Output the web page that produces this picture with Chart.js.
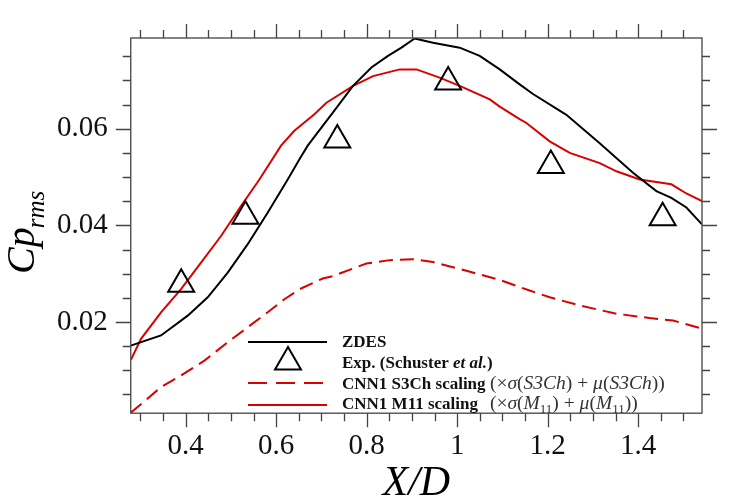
<!DOCTYPE html>
<html lang="en">
<head>
<meta charset="UTF-8" />
<title>Cp rms</title>
<style>
  body { margin: 0; background: #fff; }
  canvas { display: block; }
</style>
</head>
<body>
<canvas id="cpChart" width="752" height="503"></canvas>
<script src="https://cdn.jsdelivr.net/npm/chart.js@4"></script>
<script>
// ZDES
const zdesX = [0.2785, 0.3454, 0.4044, 0.4486, 0.4928, 0.537, 0.581, 0.6254, 0.652, 0.6696, 0.7255, 0.7697, 0.8104, 0.847, 0.8767, 0.906, 0.9465, 1.0055, 1.0497, 1.094, 1.138, 1.1675, 1.2413, 1.3149, 1.3885, 1.4402, 1.4733, 1.5065, 1.541];
const zdesY = [0.0151, 0.0172, 0.0213, 0.0251, 0.0302, 0.0361, 0.0426, 0.0495, 0.0538, 0.0565, 0.0634, 0.0689, 0.0727, 0.0751, 0.0768, 0.0787, 0.0778, 0.0768, 0.0751, 0.0723, 0.0692, 0.0672, 0.0629, 0.0570, 0.0509, 0.0471, 0.0457, 0.0437, 0.0402];
// experiment (Schuster et al.)
const expX = [0.39, 0.532, 0.735, 0.98, 1.207, 1.454];
const expY = [0.0278, 0.0419, 0.0577, 0.0697, 0.0524, 0.0416];
// CNN1 S3Ch scaling
const s3chX = [0.2785, 0.3454, 0.3896, 0.4413, 0.4928, 0.537, 0.5812, 0.618, 0.652, 0.7028, 0.7255, 0.7993, 0.8508, 0.9023, 0.9465, 1.0203, 1.0939, 1.160, 1.2044, 1.271, 1.352, 1.4254, 1.477, 1.541];
const s3chY = [0.0012, 0.0065, 0.0089, 0.012, 0.0158, 0.0189, 0.022, 0.0247, 0.0268, 0.029, 0.0295, 0.0321, 0.0328, 0.033, 0.0324, 0.0306, 0.0287, 0.0265, 0.0251, 0.0234, 0.0217, 0.0208, 0.0203, 0.0186];
// CNN1 M11 scaling
const m11X = [0.2791, 0.3012, 0.3454, 0.3896, 0.4338, 0.478, 0.5222, 0.5628, 0.6106, 0.640, 0.6844, 0.711, 0.77, 0.814, 0.873, 0.91, 0.961, 1.0055, 1.072, 1.094, 1.138, 1.153, 1.2044, 1.2487, 1.3149, 1.352, 1.4033, 1.4733, 1.5065, 1.541];
const m11Y = [0.0122, 0.0165, 0.022, 0.0268, 0.0323, 0.0378, 0.044, 0.0495, 0.0565, 0.0596, 0.063, 0.0654, 0.0689, 0.0709, 0.0723, 0.0723, 0.0706, 0.0689, 0.0661, 0.0646, 0.062, 0.0612, 0.0574, 0.055, 0.0529, 0.0512, 0.0495, 0.0485, 0.0466, 0.045];

const xLabels = [0.4, 0.6, 0.8, 1, 1.2, 1.4];
const yLabels = [0.02, 0.04, 0.06];
const xRange = [0.2785, 1.541];
const yRange = [0.0011, 0.0788];

const serif = "'Liberation Serif', 'DejaVu Serif', serif";
const red = '#d90000';

const toPts = (xs, ys) => xs.map((x, i) => ({ x: x, y: ys[i] }));
const isMajor = (v, list) => list.some((m) => Math.abs(m - v) < 1e-6);

// minor tick marks every 0.05 on x, 0.005 on y
const xMarks = [];
for (let k = 6; k <= 30; k++) xMarks.push(k * 0.05);
const yMarks = [];
for (let k = 1; k <= 15; k++) yMarks.push(k * 0.005);

const frame = {
  id: 'frame',
  afterDraw(chart) {
    const { ctx, chartArea: a } = chart;
    const sx = chart.scales.x, sy = chart.scales.y;
    ctx.save();
    ctx.strokeStyle = '#444';
    ctx.lineWidth = 1.3;
    ctx.strokeRect(a.left, a.top, a.right - a.left, a.bottom - a.top);
    ctx.beginPath();
    xMarks.forEach((v) => {
      const px = Math.round(sx.getPixelForValue(v)) + 0.5;
      const len = isMajor(v, xLabels) ? 14 : 8;
      ctx.moveTo(px, a.bottom); ctx.lineTo(px, a.bottom + len);
      ctx.moveTo(px, a.top); ctx.lineTo(px, a.top - len);
    });
    yMarks.forEach((v) => {
      const py = Math.round(sy.getPixelForValue(v)) + 0.5;
      const len = isMajor(v, yLabels) ? 15 : 8;
      ctx.moveTo(a.left, py); ctx.lineTo(a.left - len, py);
      ctx.moveTo(a.right, py); ctx.lineTo(a.right + len, py);
    });
    ctx.stroke();

    // axis titles
    ctx.fillStyle = '#000';
    ctx.textBaseline = 'alphabetic';
    ctx.textAlign = 'center';
    ctx.font = 'italic 42px ' + serif;
    ctx.fillText('X/D', (a.left + a.right) / 2, 495);

    ctx.save();
    ctx.translate(34, 274);
    ctx.rotate(-Math.PI / 2);
    ctx.textAlign = 'left';
    ctx.font = 'italic 40px ' + serif;
    ctx.fillText('Cp', 0, 0);
    const w = ctx.measureText('Cp').width;
    ctx.font = 'italic 25px ' + serif;
    ctx.fillText('rms', w - 1, 10);
    ctx.restore();

    // legend
    const ds = chart.data.datasets;
    const bold = 'bold 17px ' + serif;
    const boldIt = 'italic bold 17px ' + serif;
    const reg = '19.5px ' + serif;
    const it = 'italic 19.5px ' + serif;
    const sub = '13px ' + serif;
    const rows = [
      { d: 0, y: 342, base: 347, parts: [['ZDES', bold]] },
      { d: 1, y: 362, base: 367.5, parts: [['Exp. (Schuster ', bold], ['et al.', boldIt], [')', bold]] },
      { d: 2, y: 383, base: 388.5, parts: [['CNN1 S3Ch scaling', bold]],
        math: [['(\u00d7', reg], ['\u03c3', it], ['(', reg], ['S3Ch', it], [') + ', reg], ['\u03bc', it], ['(', reg], ['S3Ch', it], ['))', reg]] },
      { d: 3, y: 405, base: 409, parts: [['CNN1 M11 scaling', bold]],
        math: [['(\u00d7', reg], ['\u03c3', it], ['(', reg], ['M', it], ['11', sub, 4], [') + ', reg], ['\u03bc', it], ['(', reg], ['M', it], ['11', sub, 4], ['))', reg]] }
    ];
    const drawParts = (parts, x, base, color) => {
      parts.forEach((p) => {
        ctx.font = p[1];
        ctx.fillStyle = color;
        ctx.fillText(p[0], x, base + (p[2] || 0));
        x += ctx.measureText(p[0]).width;
      });
      return x;
    };
    ctx.textAlign = 'left';
    rows.forEach((r) => {
      const d = ds[r.d];
      if (r.d === 1) {
        const h = 15;
        ctx.beginPath();
        ctx.moveTo(288, r.y - h);
        ctx.lineTo(288 + h * Math.sin(2 * Math.PI / 3), r.y + h / 2);
        ctx.lineTo(288 - h * Math.sin(2 * Math.PI / 3), r.y + h / 2);
        ctx.closePath();
        ctx.strokeStyle = d.pointBorderColor;
        ctx.lineWidth = d.pointBorderWidth;
        ctx.setLineDash([]);
        ctx.stroke();
      } else {
        ctx.beginPath();
        ctx.moveTo(248, r.y);
        ctx.lineTo(327, r.y);
        ctx.strokeStyle = d.borderColor;
        ctx.lineWidth = d.borderWidth;
        ctx.setLineDash(d.borderDash ? [19, 9] : []);
        ctx.stroke();
        ctx.setLineDash([]);
      }
      drawParts(r.parts, 342, r.base, '#111');
      if (r.math) drawParts(r.math, 490, r.base, '#333');
    });
    ctx.restore();
  }
};

const axisTicks = {
  font: { family: serif, size: 29 },
  color: '#111',
  includeBounds: false,
  autoSkip: false,
  maxRotation: 0
};

new Chart(document.getElementById('cpChart').getContext('2d'), {
  type: 'scatter',
  data: {
    datasets: [
      {
        label: 'ZDES',
        data: toPts(zdesX, zdesY),
        showLine: true,
        borderColor: '#000',
        borderWidth: 2,
        pointRadius: 0,
        tension: 0
      },
      {
        label: 'Exp. (Schuster et al.)',
        data: toPts(expX, expY),
        showLine: false,
        pointStyle: 'triangle',
        pointRadius: 15,
        pointHoverRadius: 15,
        pointBorderColor: '#000',
        pointBorderWidth: 2,
        pointBackgroundColor: 'rgba(0,0,0,0)'
      },
      {
        label: 'CNN1 S3Ch scaling',
        data: toPts(s3chX, s3chY),
        showLine: true,
        borderColor: red,
        borderWidth: 2,
        borderDash: [14, 7],
        pointRadius: 0,
        tension: 0
      },
      {
        label: 'CNN1 M11 scaling',
        data: toPts(m11X, m11Y),
        showLine: true,
        borderColor: red,
        borderWidth: 2,
        pointRadius: 0,
        tension: 0
      }
    ]
  },
  options: {
    responsive: false,
    animation: false,
    devicePixelRatio: 1,
    layout: { padding: { left: 50, right: 50, top: 38, bottom: 37 } },
    plugins: { legend: { display: false }, tooltip: { enabled: false } },
    scales: {
      x: {
        type: 'linear',
        min: xRange[0],
        max: xRange[1],
        grid: { drawOnChartArea: false, tickLength: 14, tickColor: 'rgba(0,0,0,0)' },
        border: { display: false },
        ticks: Object.assign({}, axisTicks, {
          stepSize: 0.2,
          padding: 2,
          callback: (v) => String(Number(v.toFixed(2)))
        })
      },
      y: {
        type: 'linear',
        min: yRange[0],
        max: yRange[1],
        grid: { drawOnChartArea: false, tickLength: 16, tickColor: 'rgba(0,0,0,0)' },
        border: { display: false },
        ticks: Object.assign({}, axisTicks, {
          stepSize: 0.02,
          padding: 7,
          callback: (v) => v.toFixed(2)
        })
      }
    }
  },
  plugins: [frame]
});
</script>
</body>
</html>
